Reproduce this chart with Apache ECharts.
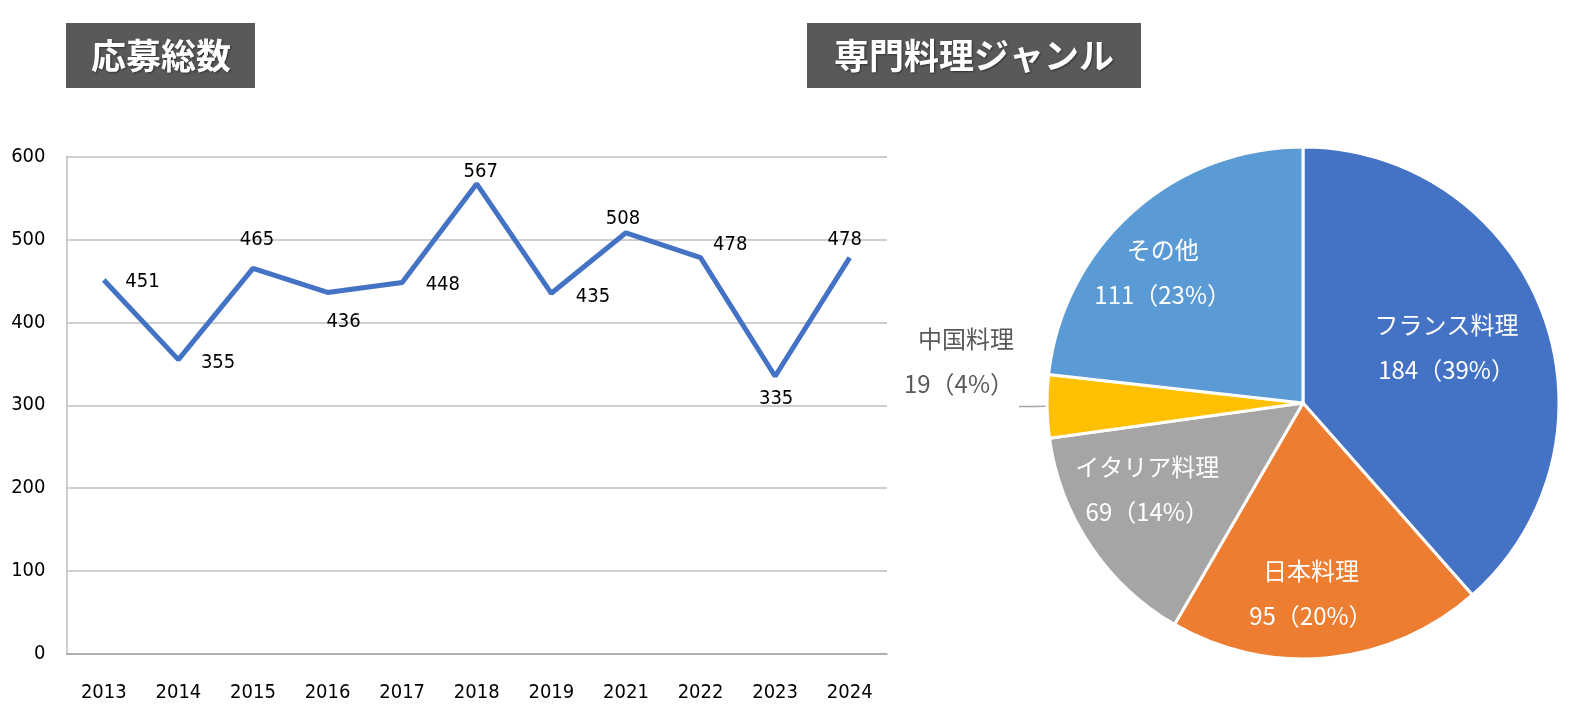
<!DOCTYPE html>
<html>
<head>
<meta charset="utf-8">
<script src="https://cdn.jsdelivr.net/npm/echarts@6/dist/echarts.min.js"></script>
<style>
  html, body { margin: 0; padding: 0; background: #fff; overflow: hidden; }
  #main { width: 1582px; height: 713px; }
</style>
</head>
<body>
<div id="main"></div>
<script>
// 応募総数
var years = ['2013', '2014', '2015', '2016', '2017', '2018', '2019', '2021', '2022', '2023', '2024'];
var entries = [451, 355, 465, 436, 448, 567, 435, 508, 478, 335, 478];

// 専門料理ジャンル
var genres = ['フランス料理', '日本料理', 'イタリア料理', '中国料理', 'その他'];
var genreCounts = [184, 95, 69, 19, 111];

// label placement (style only)
var lineLabelPos = ['right', 'right', 'top', 'bottom', 'right', 'top', 'right', 'top', 'right', 'bottom', 'top'];
var lineLabelDist = [21, 22, 5, 5, 23, 5, 24, 5, 12, 5, 5];
var lineLabelOffset = [[0, 2], [0, 3], [4, -13], [16, 14], [0, 2], [4, 3], [0, 3], [-3, 2], [0, -13], [1, 7], [-5, -2]];
var pieColors = ['#4472C4', '#ED7D31', '#A5A5A5', '#FFC000', '#5B9BD5'];
var pieLabelShift = [[21, -9], [-5, 60], [-47, 13], [0, 0], [-53, -33]];

var jpFont = "'Noto Sans CJK JP', sans-serif";
var numFont = "'DejaVu Sans Condensed', 'DejaVu Sans', sans-serif";

var chart = echarts.init(document.getElementById('main'));

var lineData = entries.map(function (v, i) {
  return {
    value: v,
    label: {
      position: lineLabelPos[i],
      distance: lineLabelDist[i],
      offset: lineLabelOffset[i]
    }
  };
});

var pieData = genres.map(function (g, i) {
  var item = { name: g, value: genreCounts[i], itemStyle: { color: pieColors[i] } };
  if (g === '中国料理') {
    // outside label, lifted above the leader line with two empty lines
    item.label = {
      position: 'outside',
      color: '#595959',
      formatter: '{b}\n{c}（{d}%）\n\n'
    };
    item.labelLine = { show: true, length: 14, length2: 14, lineStyle: { color: '#A6A6A6', width: 1.5 } };
  }
  return item;
});

var titleText = {
  color: '#fff', fontSize: 35, fontWeight: 'bold', fontFamily: jpFont, lineHeight: 35,
  textShadowColor: 'rgba(0,0,0,0.45)', textShadowBlur: 2, textShadowOffsetX: 1, textShadowOffsetY: 1
};

var option = {
  animation: false,
  title: [{
    text: '応募総数',
    left: 66, top: 23,
    backgroundColor: '#595959',
    padding: [15, 24, 15, 25],
    textStyle: titleText
  }, {
    text: '専門料理ジャンル',
    left: 807, top: 23,
    backgroundColor: '#595959',
    padding: [15, 27, 15, 27],
    textStyle: titleText
  }],
  grid: { left: 66.5, right: 695, top: 156.5, bottom: 59 },
  xAxis: {
    type: 'category',
    data: years,
    boundaryGap: true,
    axisLine: { lineStyle: { color: '#A6A6A6', width: 1.5 } },
    axisTick: { show: false },
    axisLabel: { color: '#000', fontSize: 20, fontFamily: numFont, margin: 29 }
  },
  yAxis: {
    type: 'value',
    min: 0, max: 600, interval: 100,
    axisLine: { show: true, lineStyle: { color: '#BFBFBF', width: 1.5 } },
    axisTick: { show: false },
    splitLine: { lineStyle: { color: '#BFBFBF', width: 1.5 } },
    axisLabel: { color: '#000', fontSize: 20, fontFamily: numFont, margin: 21 }
  },
  series: [{
    type: 'line',
    data: lineData,
    symbol: 'circle',
    symbolSize: 1,
    showSymbol: true,
    itemStyle: { color: 'rgba(68,114,196,0)' },
    lineStyle: { color: '#4472C4', width: 5 },
    label: { show: true, color: '#000', fontSize: 20, fontFamily: numFont }
  }, {
    type: 'pie',
    center: [1303, 403],
    radius: [0, 256],
    startAngle: 90,
    clockwise: true,
    percentPrecision: 0,
    data: pieData,
    itemStyle: { borderColor: '#fff', borderWidth: 3 },
    label: {
      show: true,
      position: 'inside',
      formatter: '{b}\n{c}（{d}%）',
      color: '#fff',
      fontSize: 24,
      lineHeight: 45,
      fontFamily: jpFont
    },
    labelLine: { show: false },
    labelLayout: function (params) {
      if (params.dataIndex === 3) return {};
      var s = pieLabelShift[params.dataIndex];
      return { dx: s[0], dy: s[1] };
    }
  }]
};

chart.setOption(option);
</script>
</body>
</html>
